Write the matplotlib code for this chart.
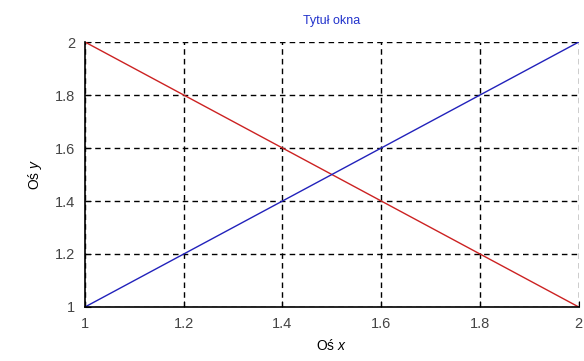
import matplotlib
matplotlib.use("Agg")
import matplotlib.pyplot as plt

x_vals = [1, 2]
blue_y = [1, 2]
red_y = [2, 1]
x_ticks = [1, 1.2, 1.4, 1.6, 1.8, 2]
y_ticks = [1, 1.2, 1.4, 1.6, 1.8, 2]
tick_labels = ["1", "1.2", "1.4", "1.6", "1.8", "2"]

plt.rcParams['font.family'] = ['Liberation Sans', 'DejaVu Sans']
plt.rcParams['mathtext.fontset'] = 'custom'
plt.rcParams['mathtext.it'] = 'Liberation Sans:italic'

fig = plt.figure(figsize=(5.84, 3.61), dpi=100)
ax = fig.add_axes([0.1455, 0.1496, 0.8455, 0.734])
ax.plot(x_vals, red_y, color='#cc2222', lw=1)
ax.plot(x_vals, blue_y, color='#2222bb', lw=1)
ax.set_xlim(1, 2)
ax.set_ylim(1, 2)
ax.set_xticks(x_ticks)
ax.set_xticklabels(tick_labels)
ax.set_yticks(y_ticks)
ax.set_yticklabels(tick_labels)
ax.grid(True, color='black', linestyle=(0, (4, 3)), linewidth=1)
for s in ['top', 'right']:
    ax.spines[s].set_visible(False)
ax.spines['left'].set_linewidth(1.2)
ax.spines['bottom'].set_linewidth(1.2)
ax.tick_params(direction='in', length=4, labelsize=10.5, colors='black', labelcolor='#444444', pad=7)
ax.set_title('Tytuł okna', color='#2233cc', fontsize=9, pad=13)
ax.set_xlabel('Oś $x$', fontsize=10, labelpad=5)
ax.set_ylabel('Oś $y$', fontsize=10, labelpad=8)
fig.savefig('out.png', dpi=100)
